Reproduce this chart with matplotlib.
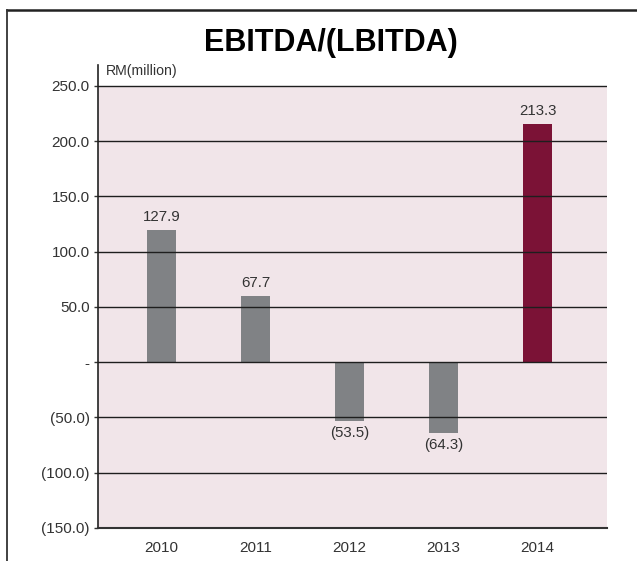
import numpy as np
import matplotlib
matplotlib.use("Agg")
import matplotlib.pyplot as plt
from matplotlib.lines import Line2D

plt.rcParams['font.family'] = ['Liberation Sans', 'DejaVu Sans']

### data ###
years = ['2010', '2011', '2012', '2013', '2014']
bar_height = [120.0, 60.0, -53.5, -64.0, 216.0]   # as drawn in the chart
labels = ['127.9', '67.7', '(53.5)', '(64.3)', '213.3']
yticks = [250, 200, 150, 100, 50, 0, -50, -100, -150]
ytick_labels = ['250.0', '200.0', '150.0', '100.0', '50.0', '-', '(50.0)', '(100.0)', '(150.0)']

grey = '#808285'
maroon = '#7b1236'
pink = '#f1e5e9'
txt = '#333333'

W, H = 637, 561
fig = plt.figure(figsize=(W / 100, H / 100), dpi=100)
ax = fig.add_axes([98 / W, 1 - 528 / H, (607 - 98) / W, (528 - 65) / H])
ax.set_facecolor('white')

x = np.arange(len(years))
ax.set_xlim(-0.675, 4.74)
ax.set_ylim(-150, 269)

# pink plot area up to 250
ax.axhspan(-150, 250, color=pink, zorder=0, lw=0)

colors = [grey] * 4 + [maroon]
ax.bar(x, bar_height, width=0.31, color=colors, zorder=2)

# horizontal rules drawn over the bars
for v in yticks[:-1]:
    ax.axhline(v, color='#1e1e1e', lw=1.0, zorder=3)

for xi, h, lab in zip(x, bar_height, labels):
    off = 9 if h >= 0 else -8.5
    ax.annotate(lab, (xi, h), xytext=(0, off), textcoords='offset points',
                ha='center', va='center', fontsize=10.8, color=txt)

ax.set_yticks(yticks)
ax.set_yticklabels(ytick_labels)
ax.set_xticks(x)
ax.set_xticklabels(years)
ax.tick_params(axis='y', length=3, width=1, color='#333333', labelsize=11, labelcolor=txt, pad=3)
ax.tick_params(axis='x', length=0, labelsize=11, labelcolor=txt, pad=9)

for s in ['top', 'right']:
    ax.spines[s].set_visible(False)
ax.spines['left'].set_color('#222222')
ax.spines['left'].set_linewidth(1.2)
ax.spines['bottom'].set_color('#333333')
ax.spines['bottom'].set_linewidth(1.5)

ax.text(0.015, 257, 'RM(million)', transform=ax.get_yaxis_transform(), ha='left', va='bottom',
        fontsize=10.2, color=txt)

# title and outer frame
fig.text(331 / W, 1 - 43 / H, 'EBITDA/(LBITDA)', ha='center', va='center',
         fontsize=22, fontweight='bold', color='black')
fig.add_artist(Line2D([7 / W, 1], [1 - 10 / H, 1 - 10 / H], color='#222222', lw=1.8))
fig.add_artist(Line2D([7 / W, 7 / W], [0, 1 - 10 / H], color='#333333', lw=1.3))

fig.savefig('out.png', dpi=100)
